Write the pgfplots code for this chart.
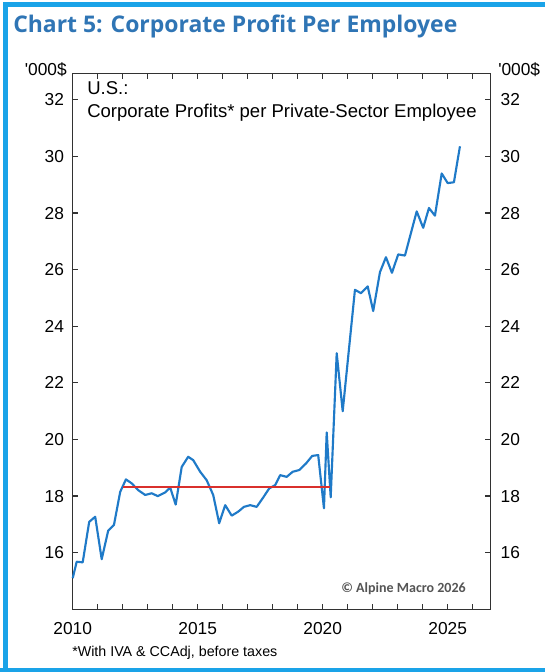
\documentclass[border=0pt]{standalone}
\usepackage{pgfplots}
\pgfplotsset{compat=1.18}
\usepackage{fontspec}
\setmainfont{Liberation Sans}
\newfontfamily\titlefont{Open Sans}
\newfontfamily\copyfont{Carlito}
\definecolor{frameblue}{RGB}{26,163,232}
\definecolor{titleblue}{RGB}{47,117,181}
\definecolor{lineblue}{RGB}{31,122,200}
\definecolor{linered}{RGB}{217,48,44}
\definecolor{axgray}{RGB}{50,50,50}
\pgfplotsset{
  common/.style={
    at={(54.525pt,47.025pt)}, anchor=south west,
    scale only axis, width=313.5pt, height=402pt,
    xmin=2010, xmax=2026.72, ymin=14, ymax=32.94,
    y tick label style={font=\fontsize{13}{14}\selectfont},
    /pgf/number format/assume math mode=true,
  }
}
\begin{document}
\begin{tikzpicture}
\path[use as bounding box] (0,0) rectangle (408pt,504pt);
\fill[white] (0,0) rectangle (408pt,504pt);
\begin{scope}[x=0.75pt,y=-0.75pt,yshift=504pt]
\draw[frameblue, line width=4pt] (5.5,690) -- (5.5,4.5) -- (560,4.5);
\draw[frameblue, line width=3.3pt] (-10,670) -- (560,670);
\node[anchor=base west, inner sep=0pt, text=titleblue, font=\titlefont\bfseries\fontsize{17.2}{18}\selectfont] at (13,33) {Chart 5: Corporate Profit Per Employee};
\end{scope}
\begin{axis}[
  common,
  axis line style={axgray, line width=1.1pt},
  xtick={2010,...,2026},
  xticklabels={2010,,,,,2015,,,,,2020,,,,,2025,},
  ytick={16,18,...,32},
  tick align=inside, major tick length=4pt,
  tick style={axgray, line width=0.9pt},
  x tick label style={font=\fontsize{13}{14}\selectfont, yshift=-6pt},
  y tick label style={xshift=-3pt},
  clip=false,
]
\addplot[lineblue, line width=1.6pt, line join=round] coordinates {
(2010.00,15.10) (2010.16,15.68) (2010.40,15.66) (2010.66,17.09) (2010.90,17.27)
(2011.16,15.77) (2011.42,16.78) (2011.65,16.98) (2011.90,18.15) (2012.13,18.59)
(2012.36,18.45) (2012.62,18.21) (2012.90,18.04) (2013.16,18.10) (2013.40,18.00)
(2013.70,18.13) (2013.90,18.30) (2014.12,17.70) (2014.36,19.03) (2014.62,19.39)
(2014.82,19.27) (2015.10,18.86) (2015.36,18.56) (2015.62,18.04) (2015.86,17.04)
(2016.10,17.68) (2016.36,17.31) (2016.62,17.45) (2016.85,17.62) (2017.10,17.68)
(2017.36,17.62) (2017.62,17.95) (2017.86,18.27) (2018.10,18.39) (2018.30,18.74)
(2018.56,18.68) (2018.80,18.86) (2019.06,18.92) (2019.33,19.15) (2019.58,19.42)
(2019.82,19.45) (2020.05,17.57) (2020.16,20.25) (2020.32,17.96) (2020.56,23.05)
(2020.80,21.00) (2021.29,25.29) (2021.53,25.17) (2021.80,25.41) (2022.02,24.54)
(2022.29,25.91) (2022.53,26.44) (2022.77,25.89) (2023.02,26.54) (2023.29,26.50)
(2023.76,28.06) (2024.02,27.48) (2024.25,28.18) (2024.49,27.91) (2024.76,29.40)
(2025.00,29.06) (2025.25,29.09) (2025.49,30.36)
};
\addplot[linered, line width=1.5pt] coordinates {(2012.03,18.33) (2020.30,18.33)};
\end{axis}
\begin{axis}[
  common,
  hide x axis,
  axis y line*=right,
  y axis line style={draw=none},
  ytick={16,18,...,32},
  major tick length=0pt,
  y tick label style={xshift=4pt},
]
\addplot[draw=none] coordinates {(2010,20)};
\end{axis}
\begin{scope}[x=0.75pt,y=-0.75pt,yshift=504pt]
\node[anchor=base east, inner sep=0pt, font=\fontsize{13}{14}\selectfont] at (67,76) {\textquotesingle000\$};
\node[anchor=base west, inner sep=0pt, font=\fontsize{13}{14}\selectfont] at (498,76) {\textquotesingle000\$};
\node[anchor=base west, inner sep=0pt, font=\fontsize{13.9}{15}\selectfont] at (87,95) {U.S.:};
\node[anchor=base west, inner sep=0pt, font=\fontsize{13.9}{15}\selectfont] at (87,118) {Corporate Profits* per Private-Sector Employee};
\node[anchor=base east, inner sep=0pt, text={rgb,255:red,85;green,85;blue,85}, font=\copyfont\bfseries\fontsize{10.5}{12}\selectfont] at (466,593) {\textcopyright\ Alpine Macro 2026};
\node[anchor=base west, inner sep=0pt, font=\fontsize{10.7}{12}\selectfont] at (72,656) {*With IVA \& CCAdj, before taxes};
\end{scope}
\end{tikzpicture}
\end{document}
